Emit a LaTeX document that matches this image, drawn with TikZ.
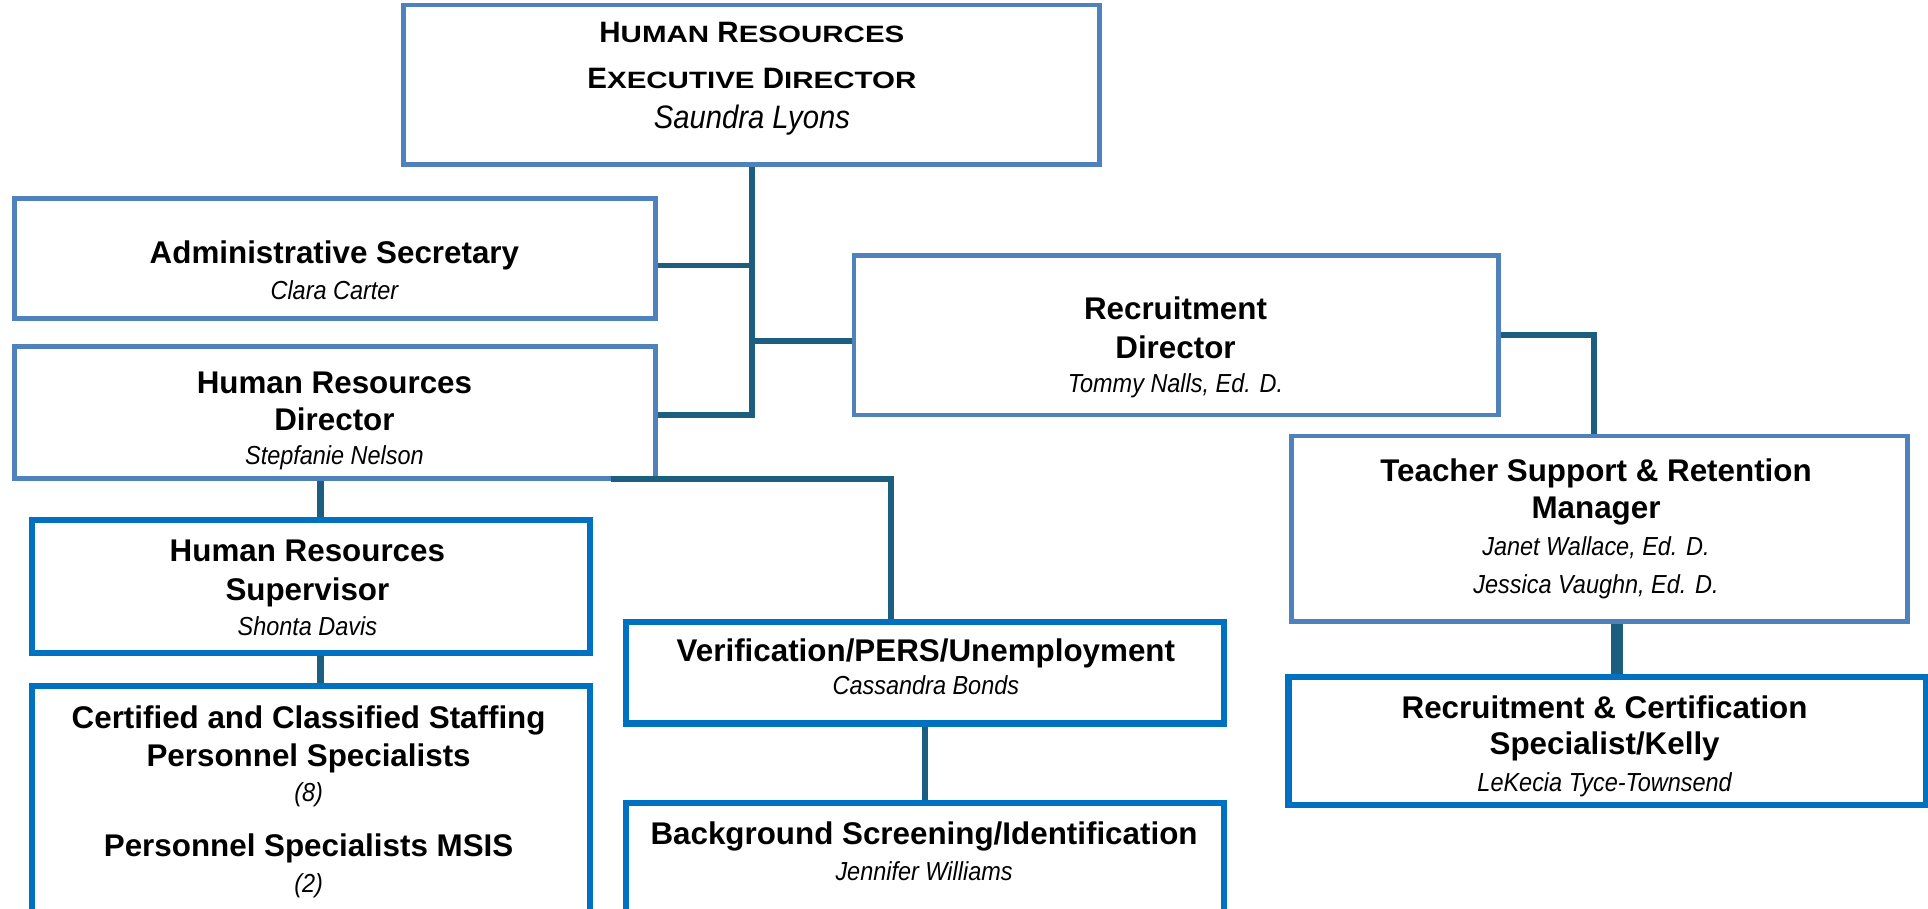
\documentclass[tikz,border=0pt]{standalone}
\usepackage{fontspec}
\setmainfont{Liberation Sans}
\newfontfamily\narrowfont[FakeStretch=0.9]{Liberation Sans}
\definecolor{boxblue}{RGB}{79,129,189}
\definecolor{deepblue}{RGB}{0,112,192}
\definecolor{linkteal}{RGB}{27,94,128}
\newcommand\smc[1]{\scalebox{1}[0.8]{#1}}
\begin{document}
\begin{tikzpicture}[x=1pt,y=-1pt,
    lbox/.style={draw=boxblue,line width=4pt,inner sep=0pt},
    dbox/.style={draw=deepblue,line width=5pt,inner sep=0pt},
    conn/.style={draw=linkteal,line width=4.5pt},
    ttl/.style={font=\fontsize{25.5}{30}\selectfont\bfseries,anchor=base,inner sep=0pt},
    nm/.style={font=\narrowfont\fontsize{21.2}{25}\selectfont\itshape,anchor=base,inner sep=0pt}]
  \useasboundingbox (0,0) rectangle (1568,738.5);
  \clip (0,0) rectangle (1568,738.5);
  % boxes
  \node[lbox,minimum width=566pt,minimum height=130pt] (exec) at (611.5,69.1) {};
  \node[lbox,minimum width=521pt,minimum height=97.6pt] (admin) at (272.4,210.1) {};
  \node[lbox,minimum width=521pt,minimum height=106.8pt] (hrdir) at (272.4,335.4) {};
  \node[lbox,minimum width=524.5pt,minimum height=130pt] (recdir) at (956.8,272.5) {};
  \node[lbox,minimum width=501pt,minimum height=151pt] (teach) at (1300.5,430.1) {};
  \node[dbox,minimum width=454pt,minimum height=108.3pt] (hrsup) at (253,477.2) {};
  \node[dbox,minimum width=454pt,minimum height=222pt] (certif) at (253,669) {};
  \node[dbox,minimum width=486.5pt,minimum height=82.7pt] (ver) at (752.3,547) {};
  \node[dbox,minimum width=486.5pt,minimum height=126.7pt] (bg) at (752.3,716.7) {};
  \node[dbox,minimum width=518.5pt,minimum height=104.4pt] (reccert) at (1307.2,602.5) {};
  % texts
  \node[ttl,font=\fontsize{24}{30}\selectfont\bfseries] (exec-1) at (611.5,34.7) {H\smc{UMAN} R\smc{ESOURCES}};
  \node[ttl,font=\fontsize{24}{30}\selectfont\bfseries] (exec-2) at (611.5,71.8) {E\smc{XECUTIVE} D\smc{IRECTOR}};
  \node[nm,font=\narrowfont\fontsize{26.4}{30}\selectfont\itshape] (exec-3) at (611.5,104.4) {Saundra Lyons};
  \node[ttl] (admin-1) at (272,214.2) {Administrative Secretary};
  \node[nm] (admin-2) at (272,243.2) {Clara Carter};
  \node[ttl] (hrdir-1) at (272,320) {Human Resources};
  \node[ttl] (hrdir-2) at (272,350.3) {Director};
  \node[nm] (hrdir-3) at (272,377.4) {Stepfanie Nelson};
  \node[ttl] (recdir-1) at (956,260.2) {Recruitment};
  \node[ttl] (recdir-2) at (956,291.4) {Director};
  \node[nm] (recdir-3) at (956,319.4) {Tommy Nalls, Ed. D.};
  \node[ttl] (teach-1) at (1298,391.7) {Teacher Support \& Retention};
  \node[ttl] (teach-2) at (1298,421.5) {Manager};
  \node[nm] (teach-3) at (1298,451.4) {Janet Wallace, Ed. D.};
  \node[nm] (teach-4) at (1298,482.5) {Jessica Vaughn, Ed. D.};
  \node[ttl] (hrsup-1) at (250,456.8) {Human Resources};
  \node[ttl] (hrsup-2) at (250,488) {Supervisor};
  \node[nm] (hrsup-3) at (250,517.2) {Shonta Davis};
  \node[ttl] (certif-1) at (251,592.3) {Certified and Classified Staffing};
  \node[ttl] (certif-2) at (251,623) {Personnel Specialists};
  \node[nm] (certif-3) at (251,651.5) {(8)};
  \node[ttl] (certif-4) at (251,696.7) {Personnel Specialists MSIS};
  \node[nm] (certif-5) at (251,726) {(2)};
  \node[ttl] (ver-1) at (753,538.1) {Verification/PERS/Unemployment};
  \node[nm] (ver-2) at (753,565.2) {Cassandra Bonds};
  \node[ttl] (bg-1) at (751.5,687.2) {Background Screening/Identification};
  \node[nm] (bg-2) at (751.5,715.7) {Jennifer Williams};
  \node[ttl] (reccert-1) at (1305,584.2) {Recruitment \& Certification};
  \node[ttl] (reccert-2) at (1305,614) {Specialist/Kelly};
  \node[nm] (reccert-3) at (1305,643.9) {LeKecia Tyce-Townsend};
  % connectors
  \coordinate (admin-out) at ([yshift=-6pt]admin.east);
  \coordinate (hr-out) at ([yshift=-2pt]hrdir.east);
  \coordinate (rec-in) at ([yshift=-5pt]recdir.west);
  \coordinate (teach-in) at ([xshift=-4pt]teach.north);
  \coordinate (sup-in) at ([xshift=7.5pt]hrsup.north);
  \coordinate (ver-in) at ([xshift=-28pt]ver.north);
  \coordinate (hr-low) at ([xshift=-38pt,yshift=1pt]hrdir.south east);
  \coordinate (spec-in) at ([xshift=8pt]reccert.north);
  \draw[conn] (exec.south) -- (exec.south |- hr-out) -- (hr-out);
  \draw[conn] (admin-out) -- (admin-out -| exec.south);
  \draw[conn] (rec-in -| exec.south) -- (rec-in);
  \draw[conn] (recdir.east) -- (recdir.east -| teach-in) -- (teach-in);
  \draw[conn,line width=5.5pt] (sup-in |- hrdir.south) -- (sup-in);
  \draw[conn,line width=5.5pt] (sup-in |- hrsup.south) -- (sup-in |- certif.north);
  \draw[conn,line width=5pt] (hr-low) -- (hr-low -| ver-in) -- (ver-in);
  \draw[conn] (ver.south) -- (bg.north);
  \draw[conn,line width=10pt] (spec-in |- teach.south) -- (spec-in);
\end{tikzpicture}
\end{document}
